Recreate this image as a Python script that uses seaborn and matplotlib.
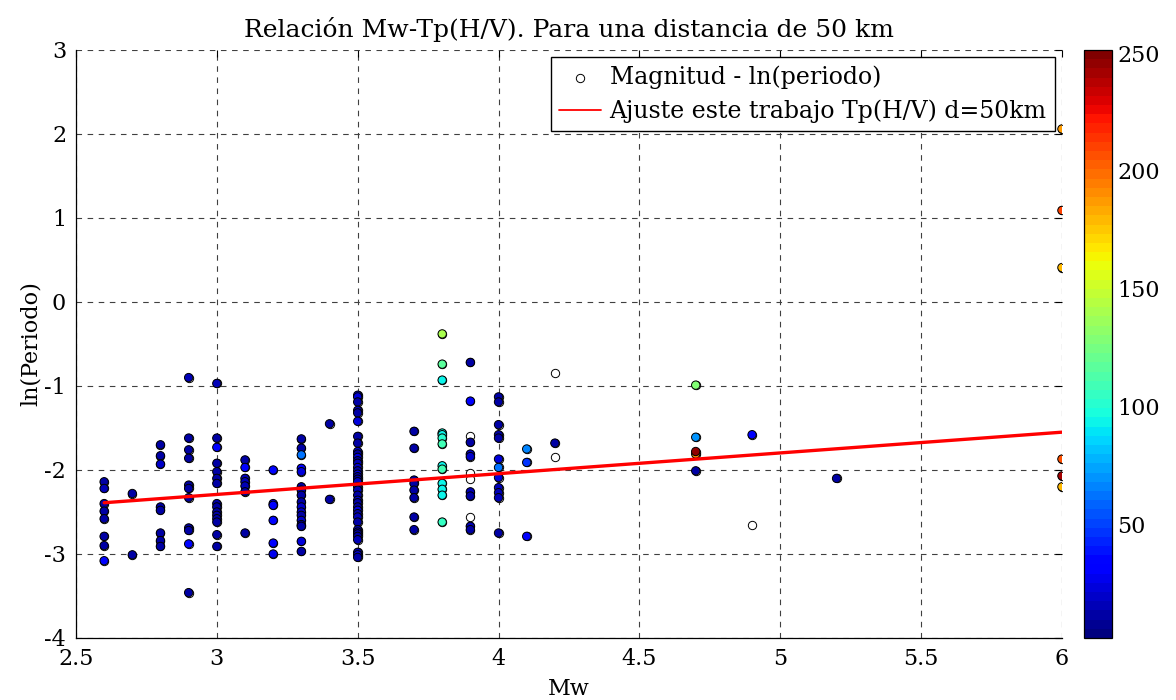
import numpy as np
import pandas as pd
import matplotlib
matplotlib.use("Agg")
import matplotlib.pyplot as plt
import seaborn as sns
from matplotlib.colors import Normalize
from matplotlib.cm import ScalarMappable

# --- data -------------------------------------------------------------
# Mw of each event
mw = (
    [2.6] * 8 + [2.7] * 2 + [2.8] * 8 + [2.9] * 11 + [3.0] * 15 + [3.1] * 7 +
    [3.2] * 6 + [3.3] * 17 + [3.4] * 2 + [3.5] * 37 + [3.7] * 8 + [3.8] * 13 +
    [3.9] * 13 + [4.0] * 12 + [4.1] * 3 + [4.2] * 3 + [4.7] * 5 + [4.9] * 2 +
    [5.2] * 1 + [6.0] * 6
)

# ln of the H/V peak period
ln_periodo = [
    -2.14, -2.22, -2.40, -2.49, -2.58, -2.79, -2.90, -3.08,
    -2.28, -3.01,
    -1.70, -1.83, -1.93, -2.44, -2.48, -2.75, -2.84, -2.91,
    -0.90, -1.62, -1.76, -1.86, -2.18, -2.22, -2.33, -2.69, -2.72, -2.88, -3.46,
    -0.97, -1.62, -1.73, -1.92, -2.02, -2.10, -2.16, -2.40, -2.44, -2.50, -2.54,
    -2.58, -2.62, -2.77, -2.91,
    -1.88, -1.97, -2.10, -2.14, -2.19, -2.26, -2.75,
    -2.00, -2.40, -2.42, -2.60, -2.87, -3.00,
    -1.63, -1.74, -1.82, -1.98, -2.02, -2.20, -2.24, -2.30, -2.38, -2.44, -2.50,
    -2.54, -2.60, -2.65, -2.67, -2.85, -2.97,
    -1.45, -2.35,
    -1.11, -1.13, -1.19, -1.29, -1.32, -1.42, -1.60, -1.68, -1.78, -1.81, -1.85,
    -1.89, -1.92, -1.97, -2.01, -2.05, -2.08, -2.11, -2.14, -2.20, -2.24, -2.30,
    -2.36, -2.39, -2.44, -2.48, -2.52, -2.56, -2.62, -2.71, -2.74, -2.76, -2.79,
    -2.83, -2.98, -3.01, -3.04,
    -1.54, -1.74, -2.12, -2.16, -2.24, -2.33, -2.56, -2.71,
    -0.38, -0.74, -0.93, -1.56, -1.58, -1.62, -1.69, -1.95, -1.99, -2.16, -2.23,
    -2.30, -2.62,
    -0.72, -1.18, -1.60, -1.67, -1.81, -1.84, -2.04, -2.11, -2.26, -2.31, -2.56,
    -2.67, -2.71,
    -1.13, -1.19, -1.46, -1.58, -1.62, -1.87, -1.97, -2.09, -2.21, -2.27, -2.33,
    -2.75,
    -1.75, -1.91, -2.79,
    -0.85, -1.68, -1.85,
    -0.99, -1.61, -1.81, -1.78, -2.01,
    -1.58, -2.65,
    -2.10,
    2.06, 1.09, 0.41, -1.87, -2.07, -2.20,
]

# colour variable of each event (NaN: no value, drawn as open circle)
nan = np.nan
valor_color = [
    12, 14, 12, 12, 12, 12, 12, 35,
    12, 12,
    12, 12, 20, 12, 12, 12, 12, 12,
    14, 12, 12, 12, 12, 12, 12, 12, 12, 35, 12,
    14, 12, 30, 12, 12, 12, 12, 12, 12, 12, 12, 12, 12, 12, 12,
    12, 32, 14, 14, 14, 12, 12,
    35, 35, 30, 35, 30, 28,
    12, 12, 62, 30, 25, 12, 14, 12, 12, 20, 20, 12, 20, 12, 12, 25, 12,
    12, 12,
    22, 25, 12, 14, 12, 25, 12, 12, 20, 12, 25, 12, 14, 20, 12, 25, 12, 12, 20,
    12, 14, 12, 20, 12, 12, 25, 12, 14, 12, 12, 20, 12, 12, 14, 12, 25, 12,
    12, 12, 12, 12, 12, 12, 12, 12,
    140, 118, 95, 98, 95, 100, 110, 95, 110, 95, 95, 95, 105,
    12, 30, nan, 12, 18, 18, nan, nan, 15, 12, nan, 15, 12,
    12, 12, 12, 12, 12, 25, 62, 25, 15, 15, 15, 12,
    65, 45, 30,
    nan, 12, nan,
    130, 70, 190, 245, 12,
    30, nan,
    10,
    185, 210, 180, 205, 240, 180,
]

# straight-line fit Tp(H/V), d = 50 km
ajuste_mw = [2.6, 6.0]
ajuste_ln = [-2.39, -1.55]

# --- figure -----------------------------------------------------------
sns.set_theme(style="white")
plt.rcParams["font.family"] = ["DejaVu Serif"]
plt.rcParams["mathtext.fontset"] = "dejavuserif"
plt.rcParams["axes.unicode_minus"] = False
plt.rcParams["text.color"] = "black"
plt.rcParams["axes.labelcolor"] = "black"
plt.rcParams["xtick.color"] = "black"
plt.rcParams["ytick.color"] = "black"

df = pd.DataFrame({"Mw": mw, "lnT": ln_periodo, "c": valor_color})
df_col = df.dropna(subset=["c"])

cmap = plt.get_cmap("jet", 64)
norm = Normalize(vmin=1.6, vmax=251.3)

fig = plt.figure(figsize=(11.76, 7.0), dpi=100)
ax = fig.add_axes([0.0646, 0.0886, 0.8384, 0.84])
cax = fig.add_axes([0.9218, 0.0886, 0.0238, 0.84])

# all events as open circles
sns.scatterplot(data=df, x="Mw", y="lnT", ax=ax, s=36, color="white",
                edgecolor="black", linewidth=0.7, zorder=3,
                label="Magnitud - ln(periodo)")
# events coloured by their value
sns.scatterplot(data=df_col, x="Mw", y="lnT", hue="c", palette=cmap,
                hue_norm=norm, ax=ax, s=36, edgecolor="black", linewidth=0.7,
                legend=False, zorder=4)

sns.lineplot(x=ajuste_mw, y=ajuste_ln, ax=ax, color="red", linewidth=2.4,
             zorder=5, label="Ajuste este trabajo Tp(H/V) d=50km")

ax.set_xlim(2.5, 6.0)
ax.set_ylim(-4, 3)
ax.set_xticks(np.arange(2.5, 6.01, 0.5))
ax.set_xticklabels(["2.5", "3", "3.5", "4", "4.5", "5", "5.5", "6"])
ax.set_yticks(range(-4, 4))
ax.grid(True, color="#404040", linestyle=(0, (5, 5)), linewidth=0.8)
ax.set_axisbelow(True)
ax.tick_params(direction="in", length=5, width=0.8, top=True, right=True,
               labelsize=16, colors="black", pad=7)
for side in ("top", "right"):
    ax.spines[side].set_visible(False)
for side in ("left", "bottom"):
    ax.spines[side].set_color("black")
    ax.spines[side].set_linewidth(0.9)

ax.set_xlabel("Mw", fontsize=16, labelpad=6)
ax.set_ylabel("ln(Periodo)", fontsize=16, labelpad=2)
ax.set_title("Relación Mw-Tp(H/V). Para una distancia de 50 km",
             fontsize=18, pad=9)

leg = ax.legend(loc="upper right", fontsize=17, frameon=True, fancybox=False,
                edgecolor="black", framealpha=1, borderaxespad=0.3,
                handlelength=1.8, handletextpad=0.35, borderpad=0.35,
                labelspacing=0.45)
leg.get_frame().set_linewidth(1.0)
for h in leg.get_lines():
    h.set_linewidth(1.3)

sm = ScalarMappable(norm=norm, cmap=cmap)
cb = fig.colorbar(sm, cax=cax)
cb.set_ticks([50, 100, 150, 200, 250])
cb.ax.tick_params(direction="in", length=5, width=0.8, left=True, right=True,
                  labelsize=16, pad=4, colors="black")
cb.outline.set_edgecolor("black")
cb.outline.set_linewidth(0.9)

fig.savefig("out.png", dpi=100)
